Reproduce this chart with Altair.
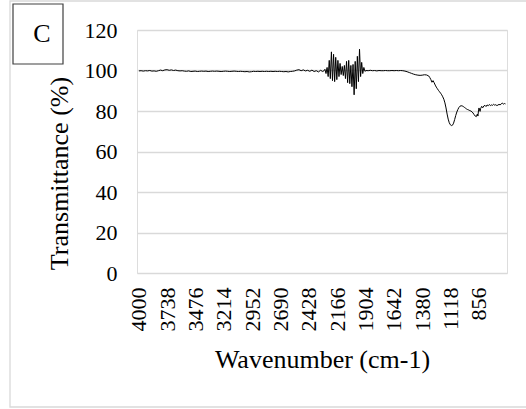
import altair as alt
import pandas as pd

# ---- data ----
wn_a = [4000, 3980, 3960, 3940, 3920, 3900, 3880, 3860, 3840, 3820, 3800, 3780, 3760, 3740, 3720,
        3700, 3680, 3660, 3640, 3620, 3600, 3580, 3560, 3540, 3520, 3500, 3480, 3460, 3440, 3420,
        3400, 3380, 3360, 3340, 3320, 3300, 3280, 3260, 3240, 3220, 3200, 3180, 3160, 3140, 3120,
        3100, 3080, 3060, 3040, 3020, 3000, 2980, 2960, 2940, 2920, 2900, 2880, 2860, 2840, 2820,
        2800, 2780, 2760, 2740, 2720, 2700, 2680, 2660, 2640, 2620, 2600, 2580, 2560, 2540, 2520,
        2500, 2480, 2460, 2440, 2420, 2400, 2380, 2360, 2340, 2320, 2300]
tr_a = [99.8, 99.9, 99.7, 99.9, 99.8, 100.0, 99.7, 99.8, 99.6, 99.9, 100.2, 99.9, 100.3, 100.4, 100.1,
        100.3, 100.0, 100.2, 99.9, 99.8, 99.9, 99.7, 99.6, 99.8, 99.5, 99.6, 99.7, 99.5, 99.6, 99.7,
        99.6, 99.7, 99.5, 99.6, 99.7, 99.6, 99.7, 99.6, 99.5, 99.6, 99.7, 99.6, 99.5, 99.6, 99.7,
        99.6, 99.5, 99.6, 99.5, 99.4, 99.5, 99.3, 99.4, 99.6, 99.5, 99.6, 99.5, 99.6, 99.5, 99.6,
        99.5, 99.6, 99.5, 99.6, 99.5, 99.6, 99.5, 99.4, 99.5, 99.3, 99.5, 99.6, 99.8, 100.2, 100.4,
        99.9, 100.3, 99.8, 100.1, 99.6, 100.2, 99.5, 99.9, 99.3, 100.1, 99.5]

wn_b = [2290, 2280, 2270, 2260, 2250, 2240, 2230, 2220, 2210, 2200, 2190, 2180, 2170, 2160, 2150,
        2140, 2130, 2120, 2110, 2100, 2090, 2080, 2070, 2060, 2050, 2040, 2030, 2020, 2010, 2000,
        1990, 1980, 1970, 1960, 1950, 1940, 1930, 1920, 1910]
tr_b = [99.8, 100.6, 98.5, 101.5, 97.0, 105.0, 96.0, 109.2, 95.0, 108.0, 94.5, 106.5, 95.5, 105.0, 97.0,
        103.5, 98.0, 102.0, 97.5, 102.5, 96.0, 104.5, 94.0, 105.0, 93.5, 102.5, 92.0, 103.0, 88.0, 104.5,
        91.0, 107.0, 94.5, 110.5, 97.0, 104.0, 98.5, 101.5, 99.6]

wn_c = [1900, 1880, 1860, 1840, 1820, 1800, 1780, 1760, 1740, 1720, 1700, 1680, 1660, 1640, 1620,
        1600, 1580, 1560, 1540, 1520, 1500, 1480, 1460, 1440, 1420, 1400, 1380, 1360, 1340, 1320,
        1310, 1300, 1290, 1280, 1270, 1260, 1250, 1240, 1230, 1220, 1210, 1200, 1190, 1180, 1170,
        1160, 1150, 1140, 1130, 1120, 1110, 1100, 1090, 1080, 1070, 1060, 1050, 1040, 1030, 1020,
        1010, 1000, 990, 980, 970, 960, 950, 940, 930, 920, 910, 900, 890, 880, 870,
        865, 860, 855, 850, 845, 840, 830, 820, 810, 800, 790, 780, 770, 760, 750,
        740, 730, 720, 710, 700, 690, 680, 670, 660, 650, 640, 630, 620, 610]
tr_c = [100.0, 99.9, 100.1, 99.9, 100.0, 99.8, 100.0, 99.9, 99.9, 100.0, 99.9, 99.9, 100.0, 99.9, 100.0,
        99.9, 100.0, 99.9, 99.7, 99.4, 99.0, 98.6, 98.2, 97.9, 97.7, 97.6, 97.7, 97.9, 97.8, 97.3,
        96.5, 95.5, 94.2, 95.0, 94.0, 92.8, 91.8, 91.0, 90.2, 89.5, 88.8, 88.0, 87.0, 85.8, 84.0,
        81.5, 78.5, 76.0, 74.2, 73.2, 72.8, 73.0, 74.0, 75.8, 77.8, 79.5, 80.8, 81.8, 82.4, 82.6,
        82.5, 82.2, 81.8, 81.4, 81.0, 80.7, 80.5, 80.2, 80.0, 79.6, 79.0, 78.2, 77.5, 77.2, 78.5,
        77.5, 80.0, 81.5, 80.5, 79.8, 81.2, 82.3, 81.6, 82.5, 82.8, 82.2, 83.0, 82.6, 83.2, 82.7,
        83.0, 82.8, 83.3, 82.9, 83.1, 82.7, 82.9, 83.3, 83.0, 83.5, 83.9, 83.4, 83.7, 83.5]

x_ticks = [4000, 3738, 3476, 3214, 2952, 2690, 2428, 2166, 1904, 1642, 1380, 1118, 856]
y_ticks = [0, 20, 40, 60, 80, 100, 120]

df = pd.DataFrame({
    "wn": wn_a + wn_b + wn_c,
    "tr": tr_a + tr_b + tr_c,
})
df["order"] = range(len(df))

FONT = "Liberation Serif"
W, H = 370, 243

line = alt.Chart(df).mark_line(color="black", strokeWidth=1).encode(
    x=alt.X("wn:Q",
            scale=alt.Scale(domain=[4018, 596], nice=False, zero=False),
            axis=alt.Axis(values=x_ticks, format="d", labelAngle=-90, grid=False, ticks=False,
                          domain=False,
                          labelFont=FONT, labelFontSize=22, labelColor="#000000", labelPadding=14,
                          labelOverlap=False, labelFlush=False,
                          title="Wavenumber (cm-1)", titleFont=FONT, titleFontSize=26,
                          titleFontWeight="normal", titleColor="#000000",
                          titleBaseline="alphabetic", titleY=94)),
    y=alt.Y("tr:Q",
            scale=alt.Scale(domain=[0, 120], nice=False),
            axis=alt.Axis(values=y_ticks, format="d", grid=True, gridColor="#d9d9d9", gridWidth=1.3,
                          ticks=False, domain=False,
                          labelFont=FONT, labelFontSize=22, labelColor="#000000", labelPadding=20,
                          title="Transmittance (%)", titleFont=FONT, titleFontSize=26,
                          titleFontWeight="normal", titleColor="#000000",
                          titleBaseline="alphabetic", titleX=-70, titleY=143)),
    order="order:Q",
)

# decorative outer frame and the panel label box
frame = alt.Chart(pd.DataFrame({"a": [0]})).mark_rect(
    fill=None, stroke="#d9d9d9", strokeWidth=1.3
).encode(x=alt.value(-127), x2=alt.value(395), y=alt.value(-29), y2=alt.value(377))

box = alt.Chart(pd.DataFrame({"a": [0]})).mark_rect(
    fill="white", stroke="#404040", strokeWidth=1.2
).encode(x=alt.value(-124), x2=alt.value(-74), y=alt.value(-26), y2=alt.value(34))

letter = alt.Chart(pd.DataFrame({"t": ["C"]})).mark_text(
    font=FONT, fontSize=26, color="black", align="center", baseline="middle"
).encode(x=alt.value(-95), y=alt.value(4), text="t:N")

chart = alt.layer(frame, line, box, letter).properties(
    width=W, height=H,
    padding={"left": 137, "top": 30, "right": 19, "bottom": 136},
    autosize=alt.AutoSizeParams(type="none"),
).configure_view(stroke=None).configure(background="white")

chart.save("out.html", embed_options={"renderer": "svg", "actions": False})
